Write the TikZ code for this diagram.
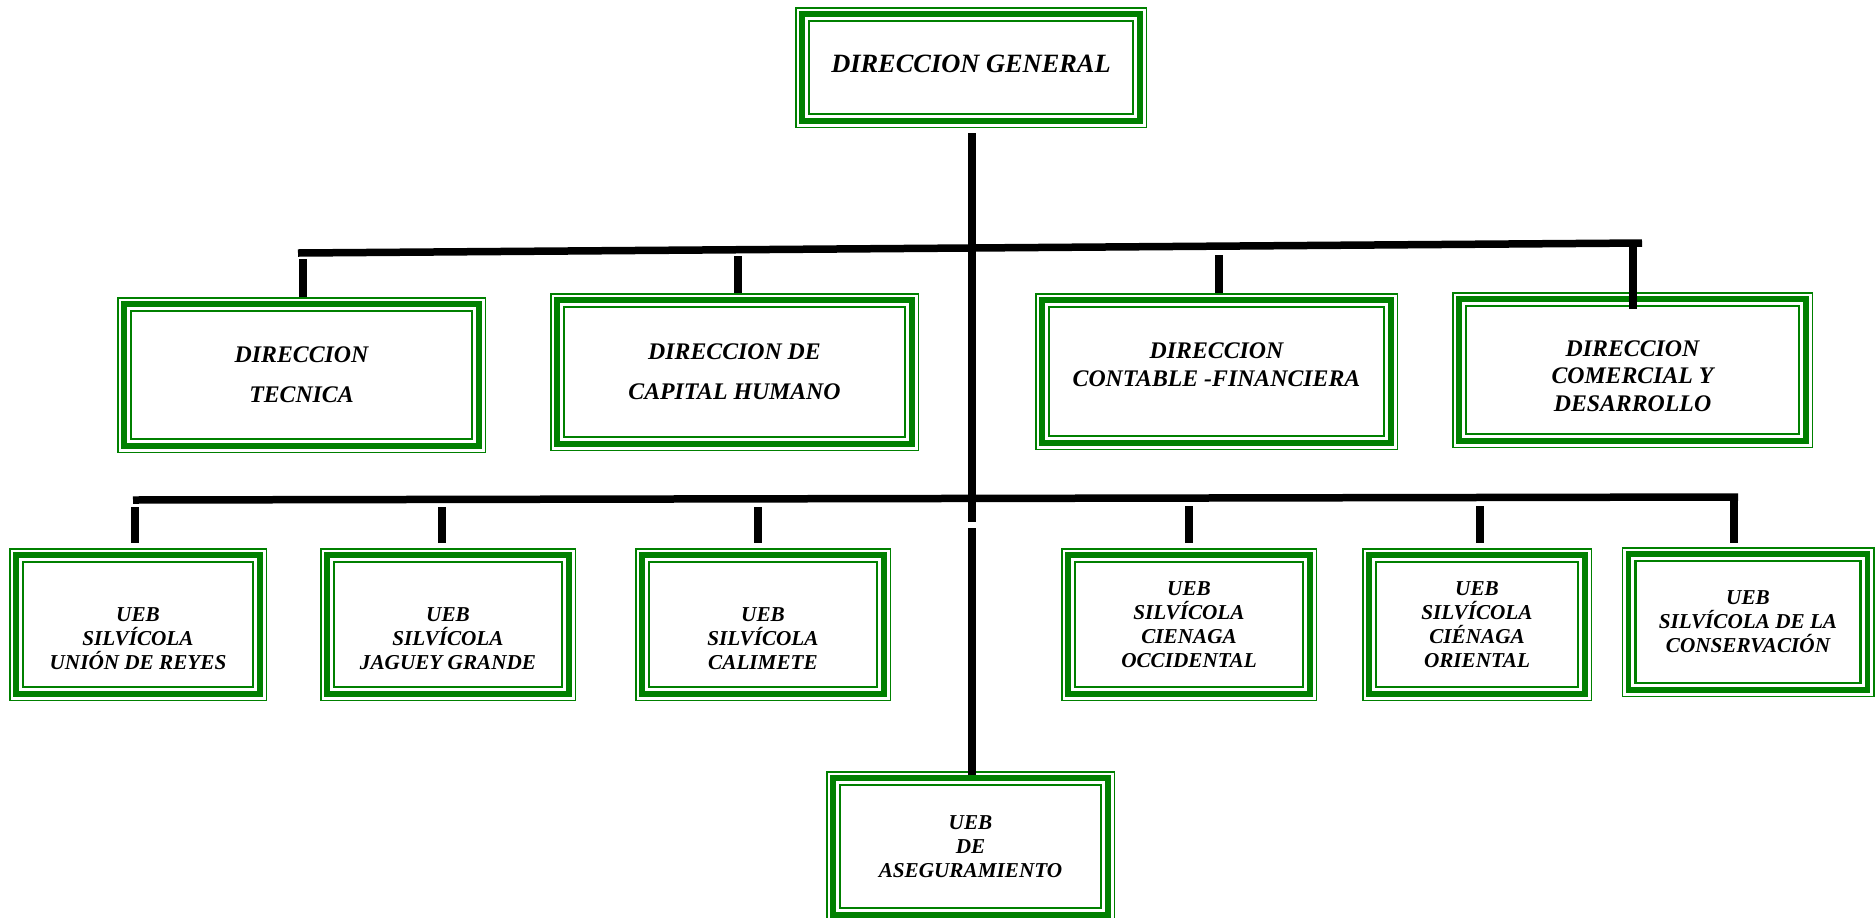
\documentclass[tikz,border=0pt]{standalone}
\usepackage{fontspec}
\setmainfont{Liberation Serif}
\usetikzlibrary{calc}
\definecolor{gr}{RGB}{0,128,0}
\begin{document}
\begin{tikzpicture}[x=0.5pt,y=-0.5pt,
  box/.style={draw=gr, line width=0.75pt, inner sep=0pt, align=center, fill=white},
  topfont/.style={font=\fontsize{13.2}{16}\bfseries\itshape\selectfont},
  rowtwo/.style={font=\fontsize{11.9}{20}\bfseries\itshape\selectfont},
  rowtwob/.style={font=\fontsize{11.9}{13.7}\bfseries\itshape\selectfont},
  rowthree/.style={font=\fontsize{10.6}{12}\bfseries\itshape\selectfont},
  bar/.style={line width=3.75pt, black}]
\useasboundingbox (0,0) rectangle (1875,917);

% boxes
\node[box, topfont, minimum width=175.25pt, minimum height=59.75pt, text depth=4pt] (dg) at (971,67.5) {DIRECCION GENERAL};

\node[box, rowtwo, minimum width=183.75pt, minimum height=77.25pt] (tec) at (301.5,375) {DIRECCION\\TECNICA};
\node[box, rowtwo, minimum width=183.75pt, minimum height=78.25pt] (cap) at (734.5,372) {DIRECCION DE\\CAPITAL HUMANO};
\node[box, rowtwob, minimum width=180.75pt, minimum height=77.75pt, text depth=7pt] (con) at (1216.5,371.5) {DIRECCION\\CONTABLE -FINANCIERA};
\node[box, rowtwob, minimum width=179.75pt, minimum height=77.25pt] (com) at (1632.5,370) {\rule{0pt}{14pt}DIRECCION\\COMERCIAL Y\\DESARROLLO};

\node[box, rowthree, minimum width=128.25pt, minimum height=75.75pt] (ur) at (138,624.5) {\rule{0pt}{21.5pt}UEB\\SILVÍCOLA\\UNIÓN DE REYES};
\node[box, rowthree, minimum width=127.25pt, minimum height=75.75pt] (jg) at (448,624.5) {\rule{0pt}{21.5pt}UEB\\SILVÍCOLA\\JAGUEY GRANDE};
\node[box, rowthree, minimum width=127.25pt, minimum height=75.75pt] (cal) at (763,624.5) {\rule{0pt}{21.5pt}UEB\\SILVÍCOLA\\CALIMETE};
\node[box, rowthree, minimum width=127.25pt, minimum height=75.75pt] (occ) at (1189,624.5) {UEB\\SILVÍCOLA\\CIENAGA\\OCCIDENTAL};
\node[box, rowthree, minimum width=114.25pt, minimum height=75.75pt] (ori) at (1477,624.5) {UEB\\SILVÍCOLA\\CIÉNAGA\\ORIENTAL};
\node[box, rowthree, minimum width=125.75pt, minimum height=74.25pt] (cons) at (1748,622) {UEB\\SILVÍCOLA DE LA\\CONSERVACIÓN};
\node[box, rowthree, minimum width=143.75pt, minimum height=74.75pt] (ase) at (970.5,846.5) {UEB\\DE\\ASEGURAMIENTO};

\foreach \n in {dg,tec,cap,con,com,ur,jg,cal,occ,ori,cons,ase}{
  \draw[gr, line width=2.75pt] ([xshift=3.4pt,yshift=-3.4pt]\n.north west) rectangle ([xshift=-3.4pt,yshift=3.4pt]\n.south east);
  \draw[gr, line width=1.25pt] ([xshift=6.9pt,yshift=-6.9pt]\n.north west) rectangle ([xshift=-6.9pt,yshift=6.9pt]\n.south east);
}

% trunk
\coordinate (t1) at (972,133);
\coordinate (t2) at (972,522);
\coordinate (t3) at (972,528);
\draw[bar] (t1) -- (t2);
\draw[bar] (t3) -- ($(t3 |- ase.north)+(0,4)$);

% upper bar
\coordinate (ua) at (298,253);
\coordinate (ub) at (1642,243);
\draw[bar] (ua) -- (ub);
\coordinate (d1) at (303,259);
\coordinate (d2) at (738,256);
\coordinate (d3) at (1219,255);
\coordinate (d4) at (1633,240);
\draw[bar] (d1) -- (d1 |- tec.north);
\draw[bar] (d2) -- (d2 |- cap.north);
\draw[bar] (d3) -- (d3 |- con.north);
\draw[bar] (d4) -- ($(d4 |- com.north)+(0,17)$);

% lower bar
\coordinate (la) at (133,500);
\coordinate (lb) at (1738,497);
\draw[bar] (la) -- (lb);
\coordinate (e1) at (135,507);
\coordinate (e2) at (442,507);
\coordinate (e3) at (758,507);
\coordinate (e4) at (1189,506);
\coordinate (e5) at (1480,506);
\coordinate (e6) at (1734,494);
\draw[bar] (e1) -- ($(e1 |- ur.north)+(0,-5)$);
\draw[bar] (e2) -- ($(e2 |- jg.north)+(0,-5)$);
\draw[bar] (e3) -- ($(e3 |- cal.north)+(0,-5)$);
\draw[bar] (e4) -- ($(e4 |- occ.north)+(0,-5)$);
\draw[bar] (e5) -- ($(e5 |- ori.north)+(0,-5)$);
\draw[bar] (e6) -- ($(e6 |- cons.north)+(0,-4)$);
\end{tikzpicture}
\end{document}
